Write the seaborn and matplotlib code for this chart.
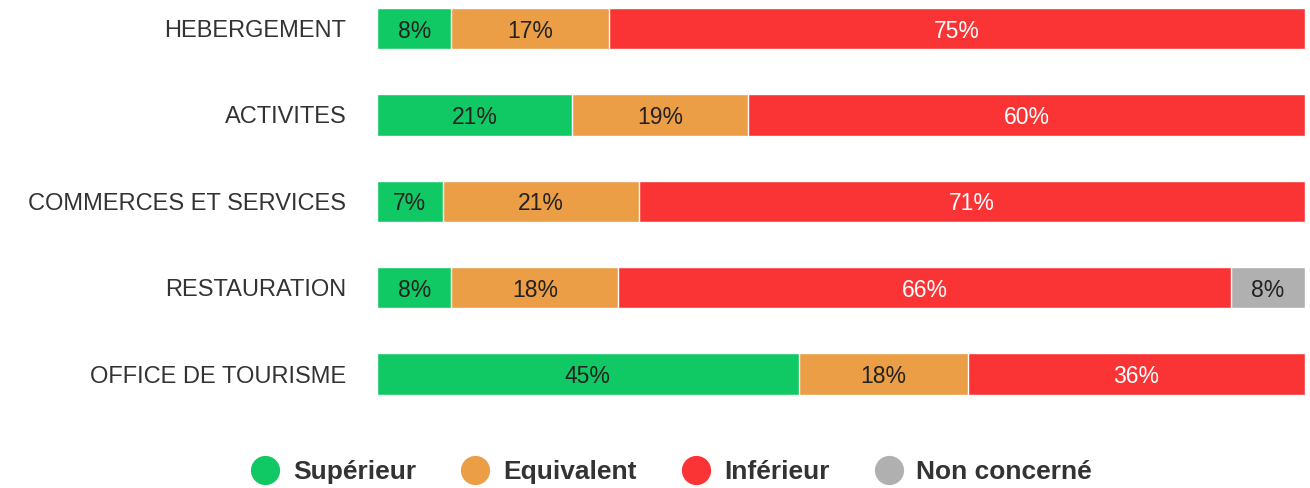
import matplotlib
matplotlib.use("Agg")
import matplotlib.pyplot as plt
from matplotlib.lines import Line2D
import numpy as np
import pandas as pd
import seaborn as sns

categories = ["HEBERGEMENT", "ACTIVITES", "COMMERCES ET SERVICES", "RESTAURATION", "OFFICE DE TOURISME"]
series_names = ["Supérieur", "Equivalent", "Inférieur", "Non concerné"]
superieur = [8, 21, 7, 8, 45]
equivalent = [17, 19, 21, 18, 18]
inferieur = [75, 60, 71, 66, 36]
non_concerne = [0, 0, 0, 8, 0]

colors = ["#10C864", "#EB9E45", "#FA3435", "#B0B0B0"]
text_colors = ["#222222", "#222222", "#FFFFFF", "#222222"]

sns.set_theme(style="white")
plt.rcParams["font.family"] = ["Liberation Sans", "DejaVu Sans"]

vals = np.array([superieur, equivalent, inferieur, non_concerne], dtype=float)
totals = vals.sum(axis=0)
pct = vals / totals * 100
cum = np.cumsum(pct, axis=0)

fig = plt.figure(figsize=(13.1, 4.88), dpi=100)
ax = fig.add_axes([0.2878, 0.175, 0.7084, 0.825])

for i in range(3, -1, -1):
    df = pd.DataFrame({"cat": categories, "val": cum[i]})
    sns.barplot(data=df, x="val", y="cat", orient="h", color=colors[i],
                saturation=1, width=0.48, ax=ax, order=categories)

for i in range(4):
    for j, c in enumerate(categories):
        if vals[i, j] <= 0:
            continue
        start = cum[i, j] - pct[i, j]
        ax.text(start + pct[i, j] / 2, j, f"{int(vals[i, j])}%", ha="center",
                va="center_baseline", fontsize=16.5, color=text_colors[i])

ax.set_xlim(0, 100)
ax.set_ylim(4.33, -0.33)
ax.set_xlabel("")
ax.set_ylabel("")
ax.set_xticks([])
ax.tick_params(axis="y", length=0, pad=22, labelsize=17, labelcolor="#333333")
for s in ax.spines.values():
    s.set_visible(False)

handles = [Line2D([0], [0], marker="o", linestyle="", markersize=20,
                  markerfacecolor=colors[i], markeredgecolor=colors[i]) for i in range(4)]
fig.legend(handles, series_names, loc="center", bbox_to_anchor=(0.508, 0.033), ncol=4,
           frameon=False, prop={"weight": "bold", "size": 19}, handletextpad=0.05,
           columnspacing=1.25, labelcolor="#333333")

fig.savefig("out.png", dpi=100)
